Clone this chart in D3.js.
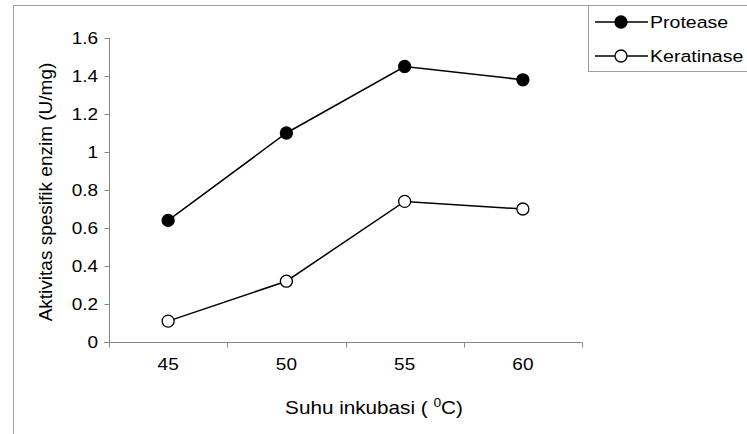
<!DOCTYPE html>
<html><head><meta charset="utf-8">
<script src="https://cdn.jsdelivr.net/npm/d3@7"></script>
<style>body{margin:0;background:#fff}svg{display:block;font-family:"Liberation Sans",Arial,sans-serif}</style>
</head><body><svg id="c" width="747" height="434"></svg>
<script>
const categories = ["45","50","55","60"];
const protease = [0.64, 1.10, 1.45, 1.38];
const keratinase = [0.11, 0.32, 0.74, 0.70];
const yTicks = [0, 0.2, 0.4, 0.6, 0.8, 1, 1.2, 1.4, 1.6];
const seriesNames = ["Protease", "Keratinase"];

const SX = 1.15; // horizontal text stretch of the original picture
const FF = "Liberation Sans, Arial, sans-serif";
const svg = d3.select("#c");
// outer chart frame
svg.append("rect").attr("x",13.5).attr("y",5.5).attr("width",760).attr("height",460)
  .attr("fill","none").attr("stroke","#a0a0a0").attr("stroke-width",1);

const x = d3.scaleBand().domain(categories).range([109,582]);
const y = d3.scaleLinear().domain([0,1.6]).range([342,38]);

// y axis
const ya = svg.append("g").attr("transform","translate(109.5,0)")
  .call(d3.axisLeft(y).tickValues(yTicks).tickSize(5).tickPadding(5).tickFormat(d=>String(d)));
ya.selectAll("path,line").attr("stroke","#888");
ya.select(".domain").attr("d","M0,38V342");
ya.selectAll("text").attr("font-size",16.5).attr("fill","#000").attr("font-family",FF)
  .attr("transform",`scale(${SX},1)`);

// x axis
const xa = svg.append("g").attr("transform","translate(0,342.5)")
  .call(d3.axisBottom(x).tickSize(0).tickPadding(16));
xa.select(".domain").attr("stroke","#888").attr("d","M104,0H582");
xa.selectAll("text").attr("font-size",16.5).attr("fill","#000").attr("font-family",FF)
  .attr("transform",`scale(${SX},1)`);
const bounds = categories.map(c=>x(c)).concat([x.range()[1]]);
xa.selectAll(".bt").data(bounds).enter().append("line")
  .attr("x1",d=>Math.round(d)+0.5).attr("x2",d=>Math.round(d)+0.5).attr("y1",0).attr("y2",5).attr("stroke","#888");

const cx = c => x(c)+x.bandwidth()/2;
const line = d3.line().x((d,i)=>cx(categories[i])).y(d=>y(d));

[[protease,"#000"],[keratinase,"#fff"]].forEach(([vals,fill])=>{
  svg.append("path").attr("d",line(vals)).attr("fill","none").attr("stroke","#000").attr("stroke-width",1.5);
  svg.selectAll(null).data(vals).enter().append("circle")
    .attr("cx",(d,i)=>cx(categories[i])).attr("cy",d=>y(d)).attr("r",6)
    .attr("fill",fill).attr("stroke","#000").attr("stroke-width",1.3);
});

// axis titles
const xt = svg.append("text").attr("transform",`translate(374,414) scale(${SX},1)`)
  .attr("text-anchor","middle").attr("font-size",18);
xt.append("tspan").text("Suhu inkubasi ( ");
xt.append("tspan").attr("dy",-7).attr("font-size",12).text("0");
xt.append("tspan").attr("dy",7).text("C)");
svg.append("text").attr("transform","translate(52,192) rotate(-90)").attr("text-anchor","middle")
  .attr("font-size",19).text("Aktivitas spesifik enzim (U/mg)");

// legend
const lg = svg.append("g");
lg.append("rect").attr("x",588.5).attr("y",5.5).attr("width",200).attr("height",66)
  .attr("fill","#fff").attr("stroke","#a0a0a0");
const fills = ["#000","#fff"];
seriesNames.forEach((n,i)=>{
  const yy = 22 + i*34;
  lg.append("line").attr("x1",595).attr("x2",648).attr("y1",yy).attr("y2",yy).attr("stroke","#000").attr("stroke-width",1.5);
  lg.append("circle").attr("cx",621).attr("cy",yy).attr("r",6).attr("fill",fills[i]).attr("stroke","#000").attr("stroke-width",1.3);
  lg.append("text").attr("transform",`translate(650,${yy}) scale(${SX},1)`).attr("dy","0.35em")
    .attr("font-size",17).text(n);
});
</script></body></html>
